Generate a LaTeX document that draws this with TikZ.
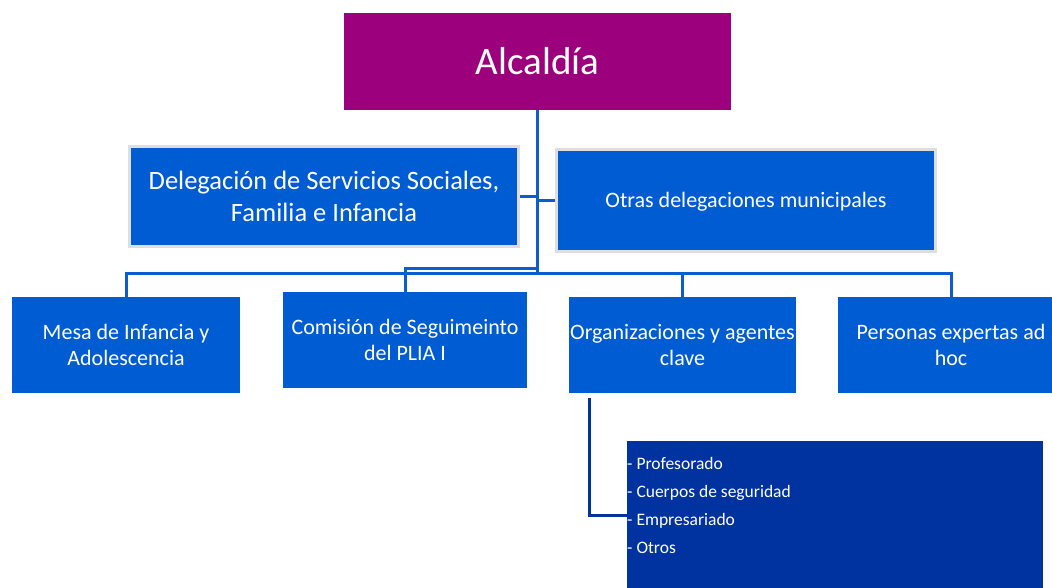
\documentclass[tikz,border=0pt]{standalone}
\usepackage{fontspec}
\setmainfont{Carlito}
\usetikzlibrary{calc}
\definecolor{purp}{RGB}{156,0,124}
\definecolor{bx}{RGB}{0,92,210}
\definecolor{dk}{RGB}{0,51,160}
\definecolor{ln}{RGB}{10,94,210}
\definecolor{gr}{RGB}{222,222,222}
\begin{document}
\begin{tikzpicture}[x=1pt,y=-1pt]
\tikzset{
 box/.style={fill=bx, text=white, inner sep=0pt, align=center, font=\fontsize{22}{26}\selectfont},
 grbox/.style={box, draw=gr, line width=3pt},
 conn/.style={draw=ln, line width=3pt},
}
\useasboundingbox (0,0) rectangle (1052,588);
\node[box, fill=purp, minimum width=387pt, minimum height=97pt, font=\fontsize{39}{47}\selectfont] (alc) at (537.5,61.5) {Alcaldía};
\node[grbox, minimum width=389pt, minimum height=100pt, font=\fontsize{26.5}{31.5}\selectfont] (deleg) at (324,196.5) {Delegación de Servicios Sociales,\\Familia e Infancia};
\node[grbox, minimum width=379pt, minimum height=102pt, text depth=2pt] (otras) at (746,200.5) {Otras delegaciones municipales};
\node[box, minimum width=228pt, minimum height=96pt] (mesa) at (126,345) {Mesa de Infancia y\\Adolescencia};
\node[box, minimum width=244pt, minimum height=96pt] (com) at (405,340) {Comisión de Seguimeinto\\del PLIA I};
\node[box, minimum width=227pt, minimum height=96pt] (org) at (682.5,345) {Organizaciones y agentes\\clave};
\node[box, minimum width=226pt, minimum height=96pt] (pers) at (951,345) {Personas expertas ad\\hoc};
\node[box, fill=dk, minimum width=416pt, minimum height=149pt] (sub) at (835,515) {};
\node[text=white, inner sep=0pt, align=left, anchor=north west, font=\fontsize{17.5}{28}\selectfont] (list) at (627,457) {- Profesorado\\- Cuerpos de seguridad\\- Empresariado\\- Otros};
\coordinate (bus) at (alc.south |- 0,273);
\draw[conn] (alc.south) -- (bus);
\draw[conn] (deleg.east) -- (deleg.east -| alc.south);
\draw[conn] (otras.west) -- (otras.west -| alc.south);
\draw[conn] (mesa.north) |- (bus) -| (pers.north);
\draw[conn] (org.north) -- (org.north |- bus);
\draw[conn] (com.north) |- ($(bus)+(0,-5)$);
\draw[conn, draw=dk] ($(org.south west)+(21,5)$) |- (sub.west);
\end{tikzpicture}
\end{document}
